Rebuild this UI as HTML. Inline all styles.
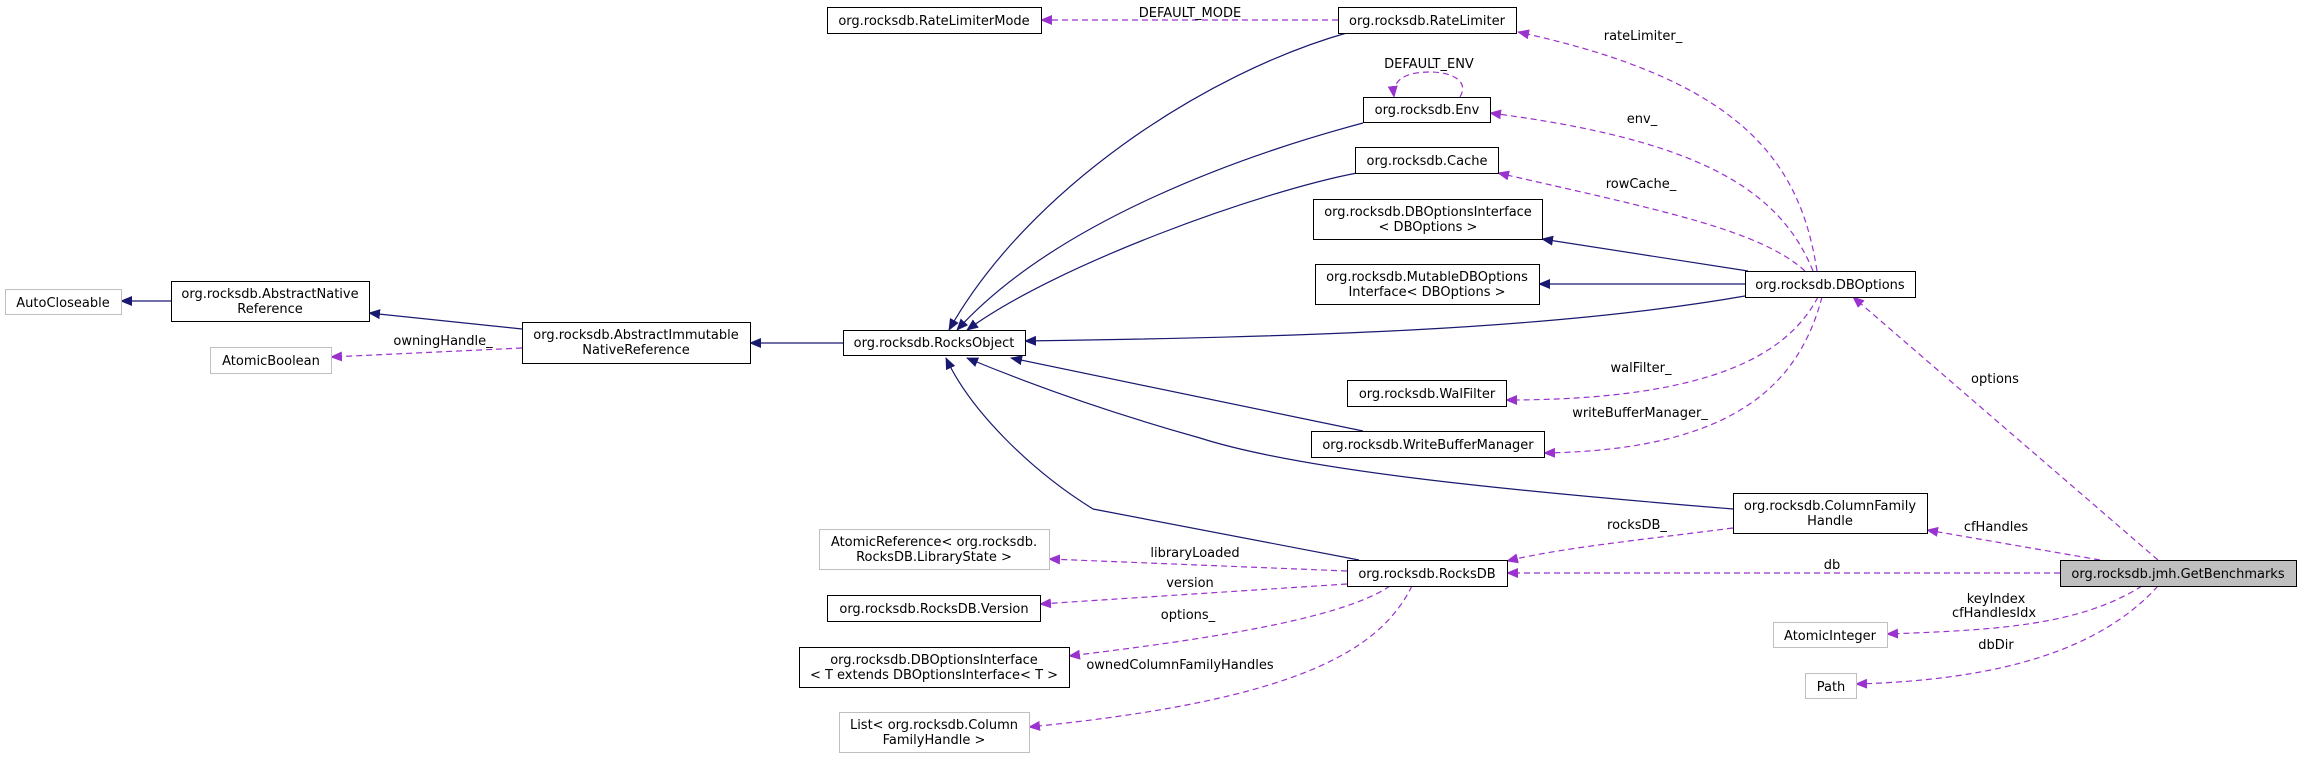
<!DOCTYPE html>
<html><head><meta charset="utf-8"><style>
html,body{margin:0;padding:0;background:#fff;}
svg{display:block;}
text{font-family:"DejaVu Sans","Liberation Sans",sans-serif;font-size:13px;fill:#000;}
.b{fill:#fff;stroke:#000;stroke-width:1;}
.g{fill:#fff;stroke:#bfbfbf;stroke-width:1;}
.s{fill:none;stroke:#191970;stroke-width:1.2;}
.d{fill:none;stroke:#9a32cd;stroke-width:1.2;stroke-dasharray:6,4;}
</style></head><body>
<svg width="2301" height="758" viewBox="0 0 2301 758" xmlns="http://www.w3.org/2000/svg">
<defs>
<marker id="an" markerWidth="12" markerHeight="10" refX="11" refY="5" orient="auto" markerUnits="userSpaceOnUse"><path d="M0,0 L12,5 L0,10 z" fill="#191970"/></marker>
<marker id="ap" markerWidth="12" markerHeight="10" refX="11" refY="5" orient="auto" markerUnits="userSpaceOnUse"><path d="M0,0 L12,5 L0,10 z" fill="#9a32cd"/></marker>
</defs>
<g text-anchor="middle">
<!-- solid edges -->
<path class="s" marker-end="url(#an)" d="M171,301 L121,301"/>
<path class="s" marker-end="url(#an)" d="M522,329 L369,313"/>
<path class="s" marker-end="url(#an)" d="M843,343 L750,343"/>
<path class="s" marker-end="url(#an)" d="M1350,32 C1203,73 1027,191 949,330"/>
<path class="s" marker-end="url(#an)" d="M1363,123 C1247,154 1057,220 957,330"/>
<path class="s" marker-end="url(#an)" d="M1357,173 C1262,191 1057,264 967,330"/>
<path class="s" marker-end="url(#an)" d="M1745,296 C1550,330 1300,337 1025,341"/>
<path class="s" marker-end="url(#an)" d="M1748,271 L1542,239"/>
<path class="s" marker-end="url(#an)" d="M1745,284 L1539,284"/>
<path class="s" marker-end="url(#an)" d="M1363,431 L1011,358"/>
<path class="s" marker-end="url(#an)" d="M1733,509 C1500,490 1300,470 1200,438 C1100,410 1020,380 967,358"/>
<path class="s" marker-end="url(#an)" d="M1359,560 L1093,509 C1030,470 970,410 946,358"/>
<!-- dashed edges -->
<path class="d" marker-end="url(#ap)" d="M1338,20 L1041,20"/>
<path class="d" marker-end="url(#ap)" d="M1460,97 C1470,80 1450,72 1430,72 C1405,72 1392,80 1394,97"/>
<path class="d" marker-end="url(#ap)" d="M1817,271 C1800,160 1740,80 1518,32"/>
<path class="d" marker-end="url(#ap)" d="M1813,271 C1780,190 1700,140 1490,113"/>
<path class="d" marker-end="url(#ap)" d="M1805,271 C1760,230 1660,210 1498,173"/>
<path class="d" marker-end="url(#ap)" d="M1818,297 C1790,350 1720,400 1506,400"/>
<path class="d" marker-end="url(#ap)" d="M1822,297 C1800,380 1740,450 1544,453"/>
<path class="d" marker-end="url(#ap)" d="M2158,560 L1853,297"/>
<path class="d" marker-end="url(#ap)" d="M2100,560 L1927,530"/>
<path class="d" marker-end="url(#ap)" d="M2060,573 L1507,573"/>
<path class="d" marker-end="url(#ap)" d="M1733,528 C1640,540 1560,548 1507,561"/>
<path class="d" marker-end="url(#ap)" d="M2142,586 C2080,625 2000,630 1887,634"/>
<path class="d" marker-end="url(#ap)" d="M2158,586 C2100,650 2000,680 1856,684"/>
<path class="d" marker-end="url(#ap)" d="M1347,571 L1049,559"/>
<path class="d" marker-end="url(#ap)" d="M1347,584 L1040,604"/>
<path class="d" marker-end="url(#ap)" d="M1390,586 C1340,620 1200,640 1069,656"/>
<path class="d" marker-end="url(#ap)" d="M1412,586 C1380,650 1300,700 1029,727"/>
<path class="d" marker-end="url(#ap)" d="M522,348 L331,357"/>
<!-- edge labels -->
<text x="1190" y="17">DEFAULT_MODE</text>
<text x="1429" y="68">DEFAULT_ENV</text>
<text x="1643" y="40">rateLimiter_</text>
<text x="1642" y="123">env_</text>
<text x="1641" y="188">rowCache_</text>
<text x="1641" y="372">walFilter_</text>
<text x="1640" y="417">writeBufferManager_</text>
<text x="1995" y="383">options</text>
<text x="1996" y="531">cfHandles</text>
<text x="1832" y="569">db</text>
<text x="1637" y="529">rocksDB_</text>
<text x="1996" y="603">keyIndex</text>
<text x="1994" y="617">cfHandlesIdx</text>
<text x="1996" y="649">dbDir</text>
<text x="1195" y="557">libraryLoaded</text>
<text x="1190" y="587">version</text>
<text x="1188" y="619">options_</text>
<text x="1180" y="669">ownedColumnFamilyHandles</text>
<text x="443" y="345">owningHandle_</text>
<!-- nodes -->
<rect class="b" x="827.5" y="7.5" width="214" height="26"/><text x="934" y="25">org.rocksdb.RateLimiterMode</text>
<rect class="g" x="5.5" y="289.5" width="116" height="25"/><text x="63" y="307">AutoCloseable</text>
<rect class="b" x="171.5" y="281.5" width="198" height="40"/><text x="270" y="298">org.rocksdb.AbstractNative</text><text x="270" y="313">Reference</text>
<rect class="g" x="210.5" y="347.5" width="121" height="26"/><text x="271" y="365">AtomicBoolean</text>
<rect class="b" x="522.5" y="322.5" width="228" height="41"/><text x="636" y="339">org.rocksdb.AbstractImmutable</text><text x="636" y="354">NativeReference</text>
<rect class="b" x="843.5" y="330.5" width="182" height="25"/><text x="934" y="347">org.rocksdb.RocksObject</text>
<rect class="b" x="1338.5" y="7.5" width="178" height="26"/><text x="1427" y="25">org.rocksdb.RateLimiter</text>
<rect class="b" x="1363.5" y="97.5" width="127" height="25"/><text x="1427" y="114">org.rocksdb.Env</text>
<rect class="b" x="1355.5" y="147.5" width="143" height="26"/><text x="1427" y="165">org.rocksdb.Cache</text>
<rect class="b" x="1313.5" y="199.5" width="229" height="40"/><text x="1428" y="216">org.rocksdb.DBOptionsInterface</text><text x="1428" y="231">&lt; DBOptions &gt;</text>
<rect class="b" x="1315.5" y="264.5" width="224" height="40"/><text x="1427" y="281">org.rocksdb.MutableDBOptions</text><text x="1427" y="296">Interface&lt; DBOptions &gt;</text>
<rect class="b" x="1745.5" y="271.5" width="170" height="26"/><text x="1830" y="289">org.rocksdb.DBOptions</text>
<rect class="b" x="1347.5" y="380.5" width="159" height="26"/><text x="1427" y="398">org.rocksdb.WalFilter</text>
<rect class="b" x="1311.5" y="431.5" width="233" height="26"/><text x="1428" y="449">org.rocksdb.WriteBufferManager</text>
<rect class="b" x="1733.5" y="493.5" width="194" height="40"/><text x="1830" y="510">org.rocksdb.ColumnFamily</text><text x="1830" y="525">Handle</text>
<rect class="b" x="1347.5" y="560.5" width="160" height="26"/><text x="1427" y="578">org.rocksdb.RocksDB</text>
<rect x="2060.5" y="560.5" width="236" height="26" fill="#bfbfbf" stroke="#000"/><text x="2178" y="578">org.rocksdb.jmh.GetBenchmarks</text>
<rect class="g" x="1773.5" y="622.5" width="114" height="25"/><text x="1830" y="640">AtomicInteger</text>
<rect class="g" x="1805.5" y="673.5" width="51" height="25"/><text x="1831" y="691">Path</text>
<rect class="g" x="819.5" y="529.5" width="230" height="40"/><text x="934" y="546">AtomicReference&lt; org.rocksdb.</text><text x="934" y="561">RocksDB.LibraryState &gt;</text>
<rect class="b" x="827.5" y="595.5" width="213" height="26"/><text x="934" y="613">org.rocksdb.RocksDB.Version</text>
<rect class="b" x="799.5" y="647.5" width="270" height="40"/><text x="934" y="664">org.rocksdb.DBOptionsInterface</text><text x="934" y="679">&lt; T extends DBOptionsInterface&lt; T &gt;</text>
<rect class="g" x="839.5" y="712.5" width="190" height="40"/><text x="934" y="729">List&lt; org.rocksdb.Column</text><text x="934" y="744">FamilyHandle &gt;</text>
</g>
</svg>
</body></html>
